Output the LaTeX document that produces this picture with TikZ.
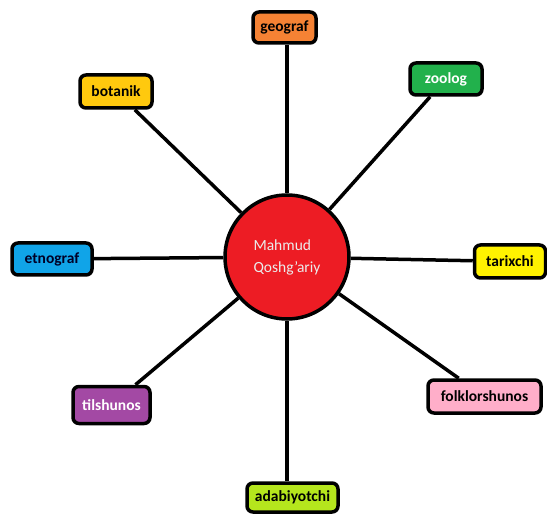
\documentclass[tikz,border=0pt]{standalone}
\usepackage{fontspec}
\setmainfont{Carlito}
\usepackage{tikz}

\definecolor{qizil}{HTML}{ED1C24}
\definecolor{apelsin}{HTML}{F58234}
\definecolor{tilla}{HTML}{FFC90E}
\definecolor{yashil}{HTML}{22B14C}
\definecolor{moviy}{HTML}{10A4E8}
\definecolor{sariq}{HTML}{FFF200}
\definecolor{binafsha}{HTML}{A349A4}
\definecolor{pushti}{HTML}{FFAEC9}
\definecolor{laym}{HTML}{B5E61D}

\tikzset{
    markaz/.style={circle, draw=black, line width=3.5pt, fill=qizil, minimum size=124pt,
        text=black!8, align=left, font=\fontsize{15.5}{22}\selectfont},
    soha/.style={rectangle, rounded corners=6pt, draw=black, line width=3.5pt,
        inner sep=0pt, font=\fontsize{15.5}{17}\selectfont\bfseries},
    tarmoq/.style={black, line width=3.5pt}
}

\begin{document}
\begin{tikzpicture}[x=1pt, y=-1pt]
            \useasboundingbox (0,0) rectangle (547,516);

            \node[markaz] (mahmud) at (287,257) {Mahmud\\Qoshg'ariy};

            \node[soha, fill=apelsin, minimum width=63pt, minimum height=31pt] (geograf) at (284.5,27.5) {geograf};
            \node[soha, fill=tilla, minimum width=72pt, minimum height=33pt] (botanik) at (116,91.5) {botanik};
            \node[soha, fill=yashil, text=white, minimum width=72pt, minimum height=32pt] (zoolog) at (446,79) {zoolog};
            \node[soha, fill=moviy, text=black!85!blue, minimum width=80pt, minimum height=32pt] (etnograf) at (52,259) {etnograf};
            \node[soha, fill=sariq, minimum width=71pt, minimum height=33pt] (tarixchi) at (510,261.5) {tarixchi};
            \node[soha, fill=binafsha, text=white, minimum width=77pt, minimum height=37pt] (tilshunos) at (111.5,405) {tilshunos};
            \node[soha, fill=pushti, minimum width=113pt, minimum height=33pt] (folklorshunos) at (484.5,396.5) {folklorshunos};
            \node[soha, fill=laym, minimum width=91pt, minimum height=29pt] (adabiyotchi) at (292.5,497.5) {adabiyotchi};

            \draw[tarmoq] (mahmud.north) -- (mahmud.north |- geograf.south);
            \draw[tarmoq] (mahmud) -- (botanik);
            \draw[tarmoq] (mahmud) -- (zoolog);
            \draw[tarmoq] (mahmud) -- (etnograf);
            \draw[tarmoq] (mahmud) -- (tarixchi);
            \draw[tarmoq] (mahmud) -- (tilshunos);
            \draw[tarmoq] (mahmud) -- (folklorshunos);
            \draw[tarmoq] (mahmud.south) -- (mahmud.south |- adabiyotchi.north);
        \end{tikzpicture}
\end{document}
